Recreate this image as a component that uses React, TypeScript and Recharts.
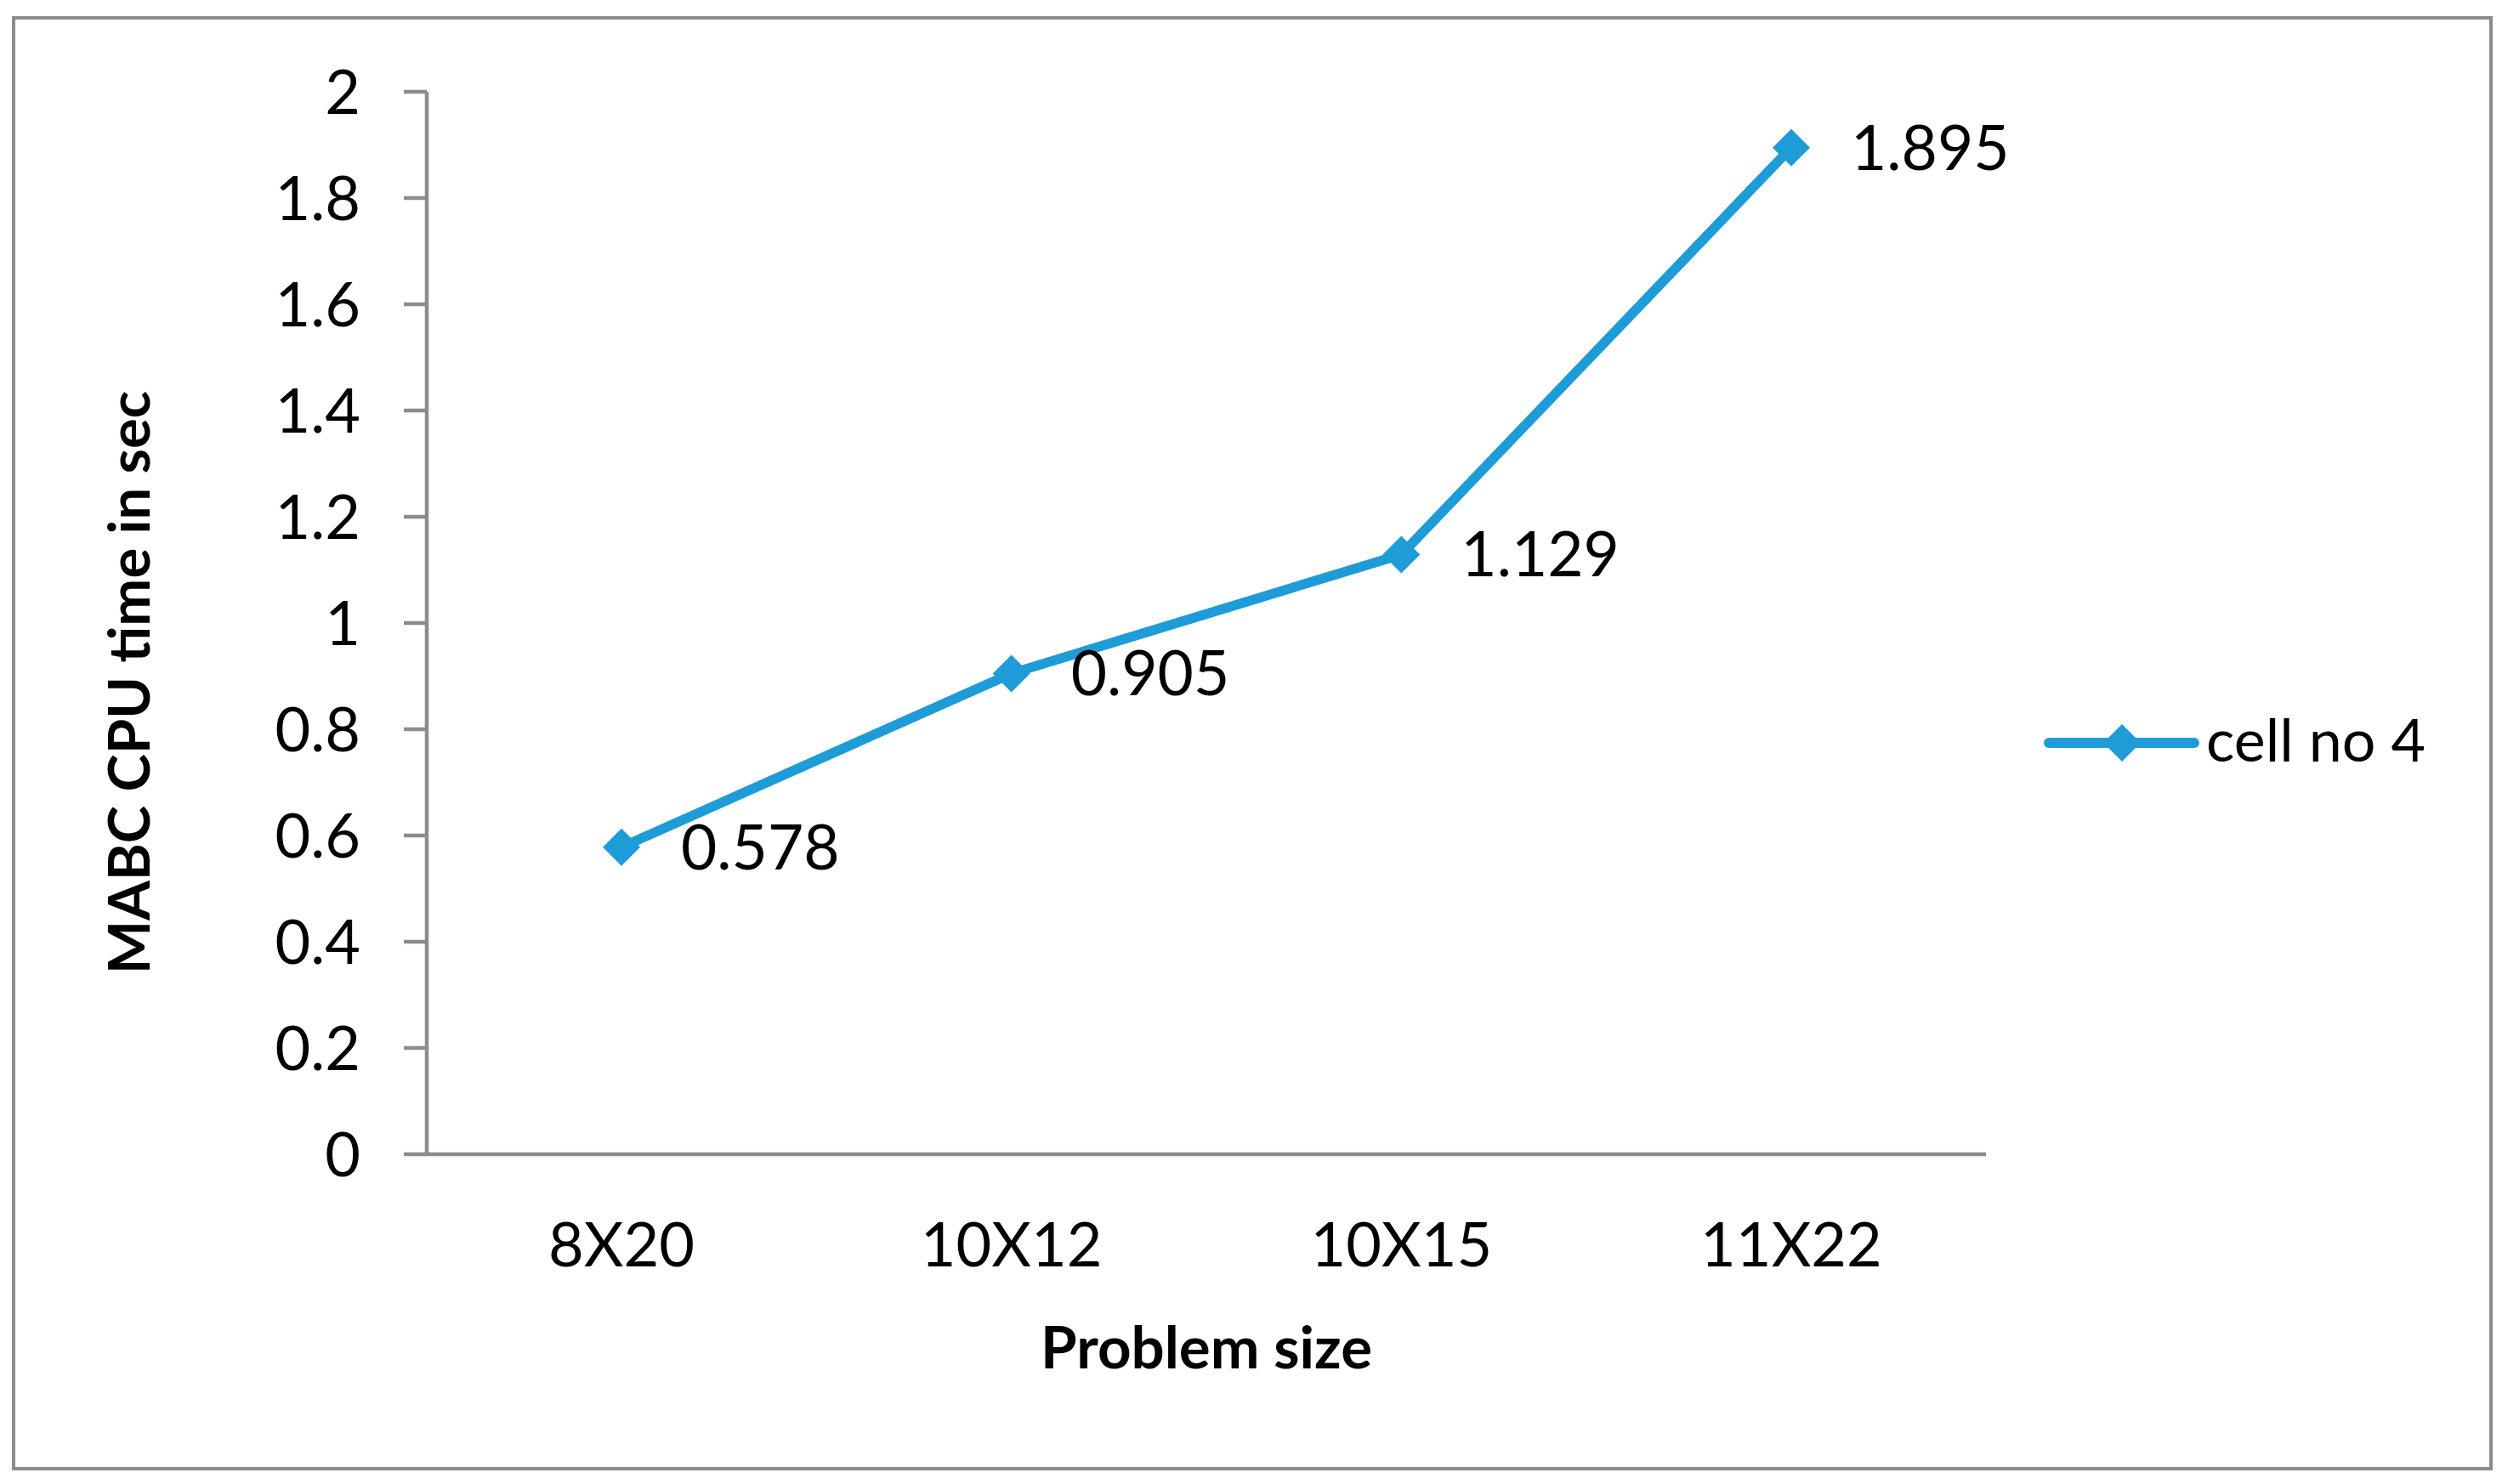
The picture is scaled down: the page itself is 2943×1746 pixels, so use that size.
import React from 'react';
import { LineChart, Line, XAxis, YAxis, Legend, LabelList } from 'recharts';

const categories = ['8X20', '10X12', '10X15', '11X22'];
const cpuTime = [0.578, 0.905, 1.129, 1.895];
const yTicks = [0, 0.2, 0.4, 0.6, 0.8, 1, 1.2, 1.4, 1.6, 1.8, 2];
const seriesName = 'cell no 4';
const xTitle = 'Problem size';
const yTitle = 'MABC CPU time in sec';

const data = categories.map((c, i) => ({ size: c, value: cpuTime[i] }));

const FONT = 'Lato, "Open Sans", sans-serif';
const BLUE = '#1E9CD8';
const GRAY = '#8c8c8c';
const R = 22;

const Diamond = (props: any) => {
  const { cx, cy, index } = props;
  if (cx == null || cy == null) return null;
  return (
    <path
      key={`d-${index}`}
      d={`M${cx},${cy - R} L${cx + R},${cy} L${cx},${cy + R} L${cx - R},${cy} Z`}
      fill={BLUE}
      stroke="none"
    />
  );
};

const LegendContent = (props: any) => {
  const { payload } = props;
  const item = payload && payload[0];
  return (
    <svg width={500} height={90} style={{ display: 'block', overflow: 'visible' }}>
      <line x1={10} x2={181} y1={40} y2={40} stroke={BLUE} strokeWidth={12} strokeLinecap="round" />
      <path d={`M96,${40 - R} L${96 + R},40 L96,${40 + R} L${96 - R},40 Z`} fill={BLUE} />
      <text x={195} y={62} fontFamily={FONT} fontSize={70} fill="#000">
        {item ? item.value : seriesName}
      </text>
    </svg>
  );
};

const YTitle = (props: any) => {
  const { viewBox } = props;
  const cx = viewBox.x + 150;
  const cy = viewBox.y + viewBox.height / 2 + 70;
  return (
    <text
      x={cx}
      y={cy}
      transform={`rotate(-90, ${cx}, ${cy})`}
      textAnchor="middle"
      dominantBaseline="central"
      fontFamily={FONT}
      fontWeight="bold"
      fontSize={67}
      fill="#000"
    >
      {yTitle}
    </text>
  );
};

const XTitle = (props: any) => {
  const { viewBox } = props;
  const cx = viewBox.x + viewBox.width / 2;
  return (
    <text x={cx} y={1610} textAnchor="middle" fontFamily={FONT} fontWeight="bold" fontSize={69} fill="#000">
      {xTitle}
    </text>
  );
};

export default function App() {
  return (
    <div style={{ position: 'absolute', left: 0, top: 0, width: 2943, height: 1746, background: '#fff' }}>
      <div
        style={{
          position: 'absolute',
          left: 14,
          top: 19,
          width: 2918,
          height: 1711,
          border: `4px solid ${GRAY}`,
          boxSizing: 'border-box',
        }}
      />
      <div style={{ position: 'absolute', left: 0, top: 0 }}>
        <LineChart
          width={2943}
          height={1746}
          data={data}
          margin={{ top: 108, right: 607, bottom: 88, left: 0 }}
        >
          <XAxis
            dataKey="size"
            type="category"
            padding={{ left: 229, right: 229 }}
            height={300}
            axisLine={{ stroke: GRAY, strokeWidth: 4.5 }}
            tickLine={false}
            tickSize={6}
            tickMargin={75}
            tick={{ fill: '#000', fontSize: 72, fontFamily: FONT }}
            interval={0}
            label={{ content: XTitle }}
          />
          <YAxis
            type="number"
            domain={[0, 2]}
            ticks={yTicks}
            width={502}
            axisLine={{ stroke: GRAY, strokeWidth: 4.5 }}
            tickLine={{ stroke: GRAY, strokeWidth: 4.5 }}
            tickSize={27}
            tickMargin={51}
            tick={{ fill: '#000', fontSize: 72, fontFamily: FONT }}
            tickFormatter={(v: number) => String(v)}
            interval={0}
            label={{ content: YTitle }}
          />
          <Legend
            layout="horizontal"
            verticalAlign="middle"
            align="center"
            wrapperStyle={{ position: 'absolute', left: 2400, top: 834, width: 500, height: 90 }}
            content={LegendContent}
          />
          <Line
            type="linear"
            dataKey="value"
            name={seriesName}
            stroke={BLUE}
            strokeWidth={11.5}
            dot={Diamond}
            activeDot={false}
            isAnimationActive={false}
          >
            <LabelList
              dataKey="value"
              position="right"
              offset={70}
              fill="#000"
              fontSize={73}
              fontFamily={FONT}
            />
          </Line>
        </LineChart>
      </div>
    </div>
  );
}
